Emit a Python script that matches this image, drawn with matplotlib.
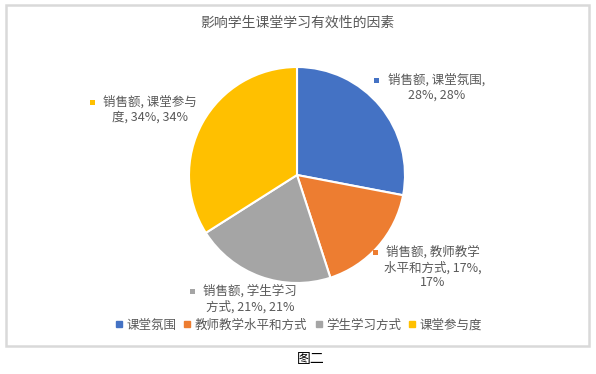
import matplotlib
matplotlib.use('Agg')
import matplotlib.pyplot as plt
from matplotlib.patches import Rectangle
from matplotlib.lines import Line2D

plt.rcParams['font.family'] = ['Noto Sans CJK SC', 'DejaVu Sans']

# data
title = '影响学生课堂学习有效性的因素'
series_name = '销售额'
categories = ['课堂氛围', '教师教学水平和方式', '学生学习方式', '课堂参与度']
values = [28, 17, 21, 34]
percents = [28, 17, 21, 34]
caption = '图二'

colors = ['#4472C4', '#ED7D31', '#A5A5A5', '#FFC000']
text_color = '#595959'

W, H = 596, 374


def py(y):
    # pixel y (from top) to axes data y
    return H - y


fig = plt.figure(figsize=(W / 100, H / 100), dpi=100)
ax = fig.add_axes([0, 0, 1, 1])

ax.pie(values, colors=colors, startangle=90, counterclock=False,
       center=(297, py(175)), radius=108,
       wedgeprops=dict(edgecolor='white', linewidth=1.5))
ax.set_xlim(0, W)
ax.set_ylim(0, H)
ax.set_aspect('equal')
ax.axis('off')

# chart border
ax.add_patch(Rectangle((5.5, py(346)), 583.5, 341, fill=False,
                       edgecolor='#D9D9D9', linewidth=1.8, zorder=0))

ax.text(297, py(23), title, ha='center', va='center', fontsize=10, color=text_color)

# data labels: (text centre x, first line y, marker x, break positions)
label_pos = [(437, 80, 376, [10]),
             (433, 252, 375, [9, 20]),
             (250, 291, 192, [9]),
             (150, 102, 92, [9])]
for cat, p, col, (tx, ty, mx, breaks) in zip(categories, percents, colors, label_pos):
    s = f'{series_name}, {cat}, {p}%, {p}%'
    lines = []
    prev = 0
    for b in breaks:
        lines.append(s[prev:b].strip())
        prev = b
    lines.append(s[prev:].strip())
    ax.text(tx, py(ty - 6.5), '\n'.join(lines), ha='center', va='top',
            multialignment='center', fontsize=9, color=text_color, linespacing=1.2)
    ax.add_patch(Rectangle((mx - 2.5, py(ty) - 2.5), 5, 5, color=col, linewidth=0))

handles = [Line2D([], [], marker='s', linestyle='', markersize=5, color=c) for c in colors]
fig.legend(handles, categories, loc='center', bbox_to_anchor=(298 / W, 1 - 325 / H),
           ncol=4, frameon=False, fontsize=9, labelcolor=text_color,
           handletextpad=0.2, columnspacing=0.5, handlelength=0.8)

ax.text(311, py(359), caption, ha='center', va='center', fontsize=10, color='black')

plt.savefig('out.png', dpi=100)
